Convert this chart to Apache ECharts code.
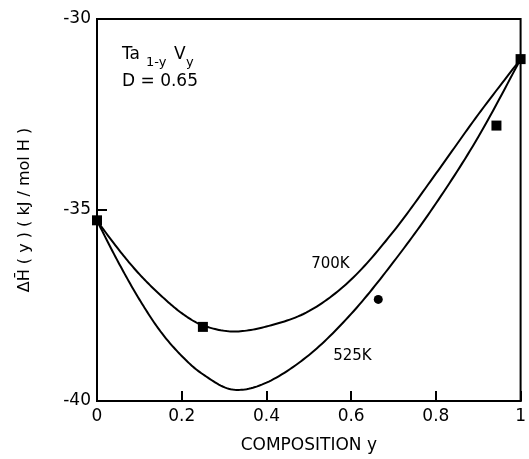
<!DOCTYPE html>
<html>
<head>
<meta charset="utf-8">
<script src="https://cdn.jsdelivr.net/npm/echarts@6/dist/echarts.min.js"></script>
<style>
html,body{margin:0;padding:0;background:#fff;}
#c{width:529px;height:459px;}
</style>
</head>
<body>
<div id="c"></div>
<script>
// ---- data ----
var comp    = [0, 0.05, 0.1, 0.15, 0.2, 0.25, 0.32, 0.4, 0.5, 0.6, 0.7, 0.8, 0.9, 1];
var dH700   = [-35.28, -36.02, -36.68, -37.23, -37.70, -38.02, -38.18, -38.05, -37.65, -36.82, -35.56, -34.05, -32.50, -31.05];
var dH525   = [-35.28, -36.36, -37.34, -38.18, -38.82, -39.30, -39.70, -39.52, -38.80, -37.72, -36.36, -34.83, -33.09, -31.05];
var squareX = [0, 0.25, 0.943, 1];
var squareY = [-35.27, -38.06, -32.79, -31.05];
var circleX = [0.664];
var circleY = [-37.34];
var xTicks = [0, 0.2, 0.4, 0.6, 0.8, 1];
var yTicks = [-40, -35, -30];
var curveLabels = ['700K', '525K'];
var labelX = [0.551, 0.603];
var labelY = [-36.42, -38.82];

function zip(a, b) { return a.map(function (v, i) { return [v, b[i]]; }); }

// Catmull-Rom spline through pixel points (rendering helper only)
function spline(pts, steps) {
  var out = [];
  var n = pts.length;
  for (var i = 0; i < n - 1; i++) {
    var p0 = pts[Math.max(i - 1, 0)], p1 = pts[i], p2 = pts[i + 1], p3 = pts[Math.min(i + 2, n - 1)];
    for (var s = 0; s < steps; s++) {
      var t = s / steps, t2 = t * t, t3 = t2 * t;
      var x = 0.5 * ((2 * p1[0]) + (-p0[0] + p2[0]) * t + (2 * p0[0] - 5 * p1[0] + 4 * p2[0] - p3[0]) * t2 + (-p0[0] + 3 * p1[0] - 3 * p2[0] + p3[0]) * t3);
      var y = 0.5 * ((2 * p1[1]) + (-p0[1] + p2[1]) * t + (2 * p0[1] - 5 * p1[1] + 4 * p2[1] - p3[1]) * t2 + (-p0[1] + 3 * p1[1] - 3 * p2[1] + p3[1]) * t3);
      out.push([x, y]);
    }
  }
  out.push(pts[n - 1]);
  return out;
}

function curveSeries(name, xs, ys) {
  return {
    name: name, type: 'custom', data: zip(xs, ys), clip: false, silent: true,
    renderItem: function (params, api) {
      if (params.dataIndex !== 0) return null;
      var pts = xs.map(function (x, i) { return api.coord([x, ys[i]]); });
      return {
        type: 'polyline',
        shape: {points: spline(pts, 16)},
        style: {stroke: '#000', lineWidth: 2, fill: null}
      };
    }
  };
}

var FONT = 'DejaVu Sans';
var chart = echarts.init(document.getElementById('c'), null, {renderer: 'canvas'});

var option = {
  backgroundColor: '#fff',
  animation: false,
  grid: {left: 97, right: 7, top: 19, bottom: 57, show: true, borderColor: '#000', borderWidth: 2, backgroundColor: 'transparent'},
  xAxis: {
    type: 'value', min: xTicks[0], max: xTicks[xTicks.length - 1], interval: 0.2,
    name: 'COMPOSITION y', nameLocation: 'middle', nameGap: 36,
    nameTextStyle: {fontFamily: FONT, fontSize: 17, color: '#000'},
    axisLine: {lineStyle: {color: '#000', width: 2}},
    axisTick: {inside: true, length: 10, lineStyle: {color: '#000', width: 2}},
    axisLabel: {margin: 7, fontFamily: FONT, fontSize: 17, color: '#000',
      formatter: function (v) { return String(Math.round(v * 10) / 10); }},
    splitLine: {show: false}
  },
  yAxis: {
    type: 'value', min: yTicks[0], max: yTicks[yTicks.length - 1], interval: 5,
    name: 'ΔH̄ ( y ) ( kJ / mol H )', nameLocation: 'middle', nameGap: 64, nameRotate: 90,
    nameTextStyle: {fontFamily: FONT, fontSize: 16, color: '#000'},
    axisLine: {lineStyle: {color: '#000', width: 2}},
    axisTick: {inside: true, length: 10, lineStyle: {color: '#000', width: 2}},
    axisLabel: {margin: 6, fontFamily: FONT, fontSize: 17, color: '#000'},
    splitLine: {show: false}
  },
  graphic: [
    {type: 'text', left: 122, top: 46, style: {text: 'Ta', fontFamily: FONT, fontSize: 17, fill: '#000'}},
    {type: 'text', left: 146, top: 56, style: {text: '1-y', fontFamily: FONT, fontSize: 13, fill: '#000'}},
    {type: 'text', left: 174, top: 46, style: {text: 'V', fontFamily: FONT, fontSize: 17, fill: '#000'}},
    {type: 'text', left: 186, top: 56, style: {text: 'y', fontFamily: FONT, fontSize: 13, fill: '#000'}},
    {type: 'text', left: 122, top: 73, style: {text: 'D = 0.65', fontFamily: FONT, fontSize: 17, fill: '#000'}}
  ],
  series: [
    curveSeries('700K', comp, dH700),
    curveSeries('525K', comp, dH525),
    {
      name: 'curve labels', type: 'scatter', data: zip(labelX, labelY), symbolSize: 0, silent: true,
      itemStyle: {opacity: 1, color: '#000'},
      label: {show: true, position: 'inside', color: '#000', opacity: 1, fontFamily: FONT, fontSize: 15,
        formatter: function (p) { return curveLabels[p.dataIndex]; }}
    },
    {
      name: 'squares', type: 'scatter', data: zip(squareX, squareY), symbol: 'rect', symbolSize: 10,
      itemStyle: {color: '#000', opacity: 1}, clip: false, z: 5
    },
    {
      name: 'circle', type: 'scatter', data: zip(circleX, circleY), symbol: 'circle', symbolSize: 9,
      itemStyle: {color: '#000', opacity: 1}, clip: false, z: 5
    }
  ]
};
chart.setOption(option);
</script>
</body>
</html>
